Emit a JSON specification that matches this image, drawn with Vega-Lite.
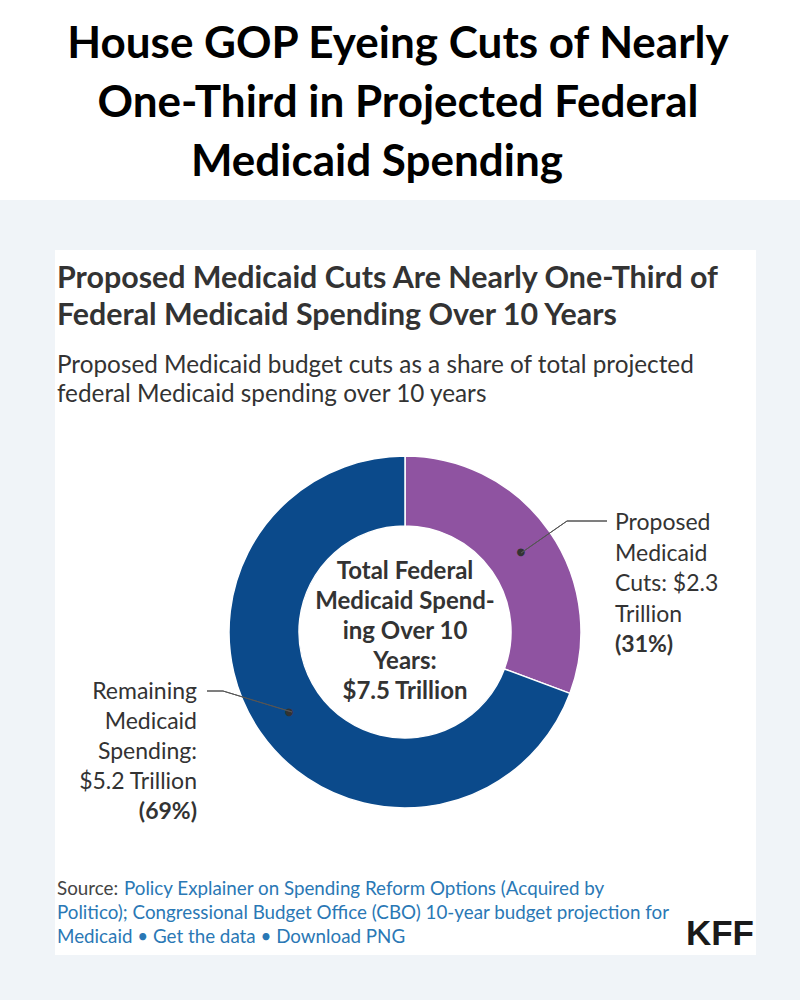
{
  "$schema": "https://vega.github.io/schema/vega-lite/v6.json",
  "background": "#f0f4f8",
  "padding": {"left": 0, "top": 0, "right": 0, "bottom": 45},
  "spacing": 50,
  "config": {"view": {"stroke": null}, "font": "Lato"},
  "vconcat": [
    {
      "width": 800,
      "height": 200,
      "view": {"fill": "#ffffff", "stroke": null},
      "data": {"values": [
        {"line": "House GOP Eyeing Cuts of Nearly", "n": 1},
        {"line": "One-Third in Projected Federal", "n": 2},
        {"line": "Medicaid Spending", "n": 3}
      ]},
      "layer": [
        {
          "transform": [{"filter": "datum.n == 1"}],
          "mark": {"type": "text", "x": 398, "y": 58, "align": "center", "baseline": "alphabetic", "fontSize": 44, "fontWeight": 700, "color": "#000000"},
          "encoding": {"text": {"field": "line"}}
        },
        {
          "transform": [{"filter": "datum.n == 2"}],
          "mark": {"type": "text", "x": 398, "y": 117, "align": "center", "baseline": "alphabetic", "fontSize": 44, "fontWeight": 700, "color": "#000000"},
          "encoding": {"text": {"field": "line"}}
        },
        {
          "transform": [{"filter": "datum.n == 3"}],
          "mark": {"type": "text", "x": 377, "y": 176, "align": "center", "baseline": "alphabetic", "fontSize": 44, "fontWeight": 700, "color": "#000000"},
          "encoding": {"text": {"field": "line"}}
        }
      ]
    },
    {
      "spacing": 0,
      "hconcat": [
        {"width": 55, "height": 705, "data": {"values": []}, "mark": "point"},
        {
          "width": 701,
          "height": 705,
          "view": {"fill": "#ffffff", "stroke": null},
          "data": {"values": [
            {"segment": "Proposed Medicaid Cuts", "value": 2.3, "share": "31%", "order": 1},
            {"segment": "Remaining Medicaid Spending", "value": 5.2, "share": "69%", "order": 2}
          ]},
          "layer": [
            {
              "mark": {"type": "arc", "innerRadius": 106, "outerRadius": 176, "x": 350, "y": 382, "stroke": "#ffffff", "strokeWidth": 1.5},
              "encoding": {
                "theta": {"field": "value", "type": "quantitative", "stack": true},
                "order": {"field": "order", "type": "quantitative"},
                "color": {"field": "segment", "type": "nominal", "legend": null,
                  "scale": {"domain": ["Proposed Medicaid Cuts", "Remaining Medicaid Spending"], "range": ["#8f53a1", "#0b4a8b"]}}
              }
            },
            {
              "mark": {"type": "text", "x": 350, "y": 382, "align": "center", "baseline": "middle", "font": "DejaVu Sans", "fontSize": 10, "color": "#333333", "text": "●"},
              "encoding": {
                "theta": {"field": "value", "type": "quantitative", "stack": true},
                "order": {"field": "order", "type": "quantitative"},
                "radius": {"value": 141}
              }
            },
            {"mark": {"type": "rule", "color": "#555555", "strokeWidth": 1}, "encoding": {"x": {"value": 466}, "y": {"value": 303}, "x2": {"value": 512}, "y2": {"value": 271}}},
            {"mark": {"type": "rule", "color": "#555555", "strokeWidth": 1}, "encoding": {"x": {"value": 512}, "y": {"value": 271}, "x2": {"value": 552}, "y2": {"value": 271}}},
            {"mark": {"type": "rule", "color": "#555555", "strokeWidth": 1}, "encoding": {"x": {"value": 237}, "y": {"value": 462}, "x2": {"value": 168}, "y2": {"value": 441}}},
            {"mark": {"type": "rule", "color": "#555555", "strokeWidth": 1}, "encoding": {"x": {"value": 168}, "y": {"value": 441}, "x2": {"value": 152}, "y2": {"value": 441}}},
            {
              "transform": [{"filter": "datum.order == 1"}, {"calculate": "'Proposed\\nMedicaid\\nCuts: $' + format(datum.value, '.1f') + '\\nTrillion'", "as": "lab"}],
              "mark": {"type": "text", "x": 560, "y": 280, "align": "left", "baseline": "alphabetic", "fontSize": 23, "lineHeight": 30.5, "lineBreak": "\n", "color": "#333333"},
              "encoding": {"text": {"field": "lab"}}
            },
            {
              "transform": [{"filter": "datum.order == 1"}, {"calculate": "'(' + datum.share + ')'", "as": "lab"}],
              "mark": {"type": "text", "x": 560, "y": 402, "align": "left", "baseline": "alphabetic", "fontSize": 23, "fontWeight": 700, "color": "#333333"},
              "encoding": {"text": {"field": "lab"}}
            },
            {
              "transform": [{"filter": "datum.order == 2"}, {"calculate": "'Remaining\\nMedicaid\\nSpending:\\n$' + format(datum.value, '.1f') + ' Trillion'", "as": "lab"}],
              "mark": {"type": "text", "x": 142, "y": 449, "align": "right", "baseline": "alphabetic", "fontSize": 23, "lineHeight": 30, "lineBreak": "\n", "color": "#333333"},
              "encoding": {"text": {"field": "lab"}}
            },
            {
              "transform": [{"filter": "datum.order == 2"}, {"calculate": "'(' + datum.share + ')'", "as": "lab"}],
              "mark": {"type": "text", "x": 142, "y": 569, "align": "right", "baseline": "alphabetic", "fontSize": 23, "fontWeight": 700, "color": "#333333"},
              "encoding": {"text": {"field": "lab"}}
            },
            {
              "data": {"values": [{"t": "Total Federal\nMedicaid Spend-\ning Over 10\nYears:\n$7.5 Trillion"}]},
              "mark": {"type": "text", "x": 350, "y": 329, "align": "center", "baseline": "alphabetic", "fontSize": 24, "fontWeight": 700, "lineHeight": 30, "lineBreak": "\n", "color": "#333333"},
              "encoding": {"text": {"field": "t"}}
            },
            {
              "data": {"values": [{"t": "Proposed Medicaid Cuts Are Nearly One-Third of\nFederal Medicaid Spending Over 10 Years"}]},
              "mark": {"type": "text", "x": 2, "y": 38, "align": "left", "baseline": "alphabetic", "fontSize": 30.4, "fontWeight": 700, "lineHeight": 37, "lineBreak": "\n", "color": "#333333"},
              "encoding": {"text": {"field": "t"}}
            },
            {
              "data": {"values": [{"t": "Proposed Medicaid budget cuts as a share of total projected\nfederal Medicaid spending over 10 years"}]},
              "mark": {"type": "text", "x": 2, "y": 123, "align": "left", "baseline": "alphabetic", "fontSize": 24.3, "lineHeight": 29, "lineBreak": "\n", "color": "#333333"},
              "encoding": {"text": {"field": "t"}}
            },
            {
              "data": {"values": [{"t": "Source:"}]},
              "mark": {"type": "text", "x": 2, "y": 645, "align": "left", "baseline": "alphabetic", "fontSize": 18.8, "color": "#444444"},
              "encoding": {"text": {"field": "t"}}
            },
            {
              "data": {"values": [{"t": "Policy Explainer on Spending Reform Options (Acquired by"}]},
              "mark": {"type": "text", "x": 69, "y": 645, "align": "left", "baseline": "alphabetic", "fontSize": 18.8, "color": "#2a78b5"},
              "encoding": {"text": {"field": "t"}}
            },
            {
              "data": {"values": [{"t": "Politico); Congressional Budget Office (CBO) 10-year budget projection for\nMedicaid • Get the data • Download PNG"}]},
              "mark": {"type": "text", "x": 2, "y": 669, "align": "left", "baseline": "alphabetic", "fontSize": 18.8, "lineHeight": 24, "lineBreak": "\n", "color": "#2a78b5"},
              "encoding": {"text": {"field": "t"}}
            },
            {
              "data": {"values": [{"t": "KFF"}]},
              "mark": {"type": "text", "x": 699, "y": 695, "align": "right", "baseline": "alphabetic", "font": "Liberation Sans", "fontSize": 35, "fontWeight": 700, "color": "#1a1a1a"},
              "encoding": {"text": {"field": "t"}}
            }
          ]
        }
      ]
    }
  ]
}
